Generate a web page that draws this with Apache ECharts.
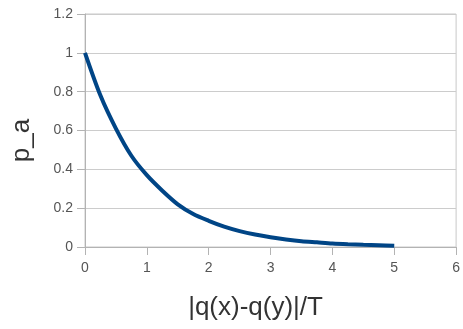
<!DOCTYPE html>
<html>
<head>
<meta charset="utf-8">
<script src="https://cdn.jsdelivr.net/npm/echarts@6/dist/echarts.min.js"></script>
<style>
  html, body { margin: 0; padding: 0; background: #fff; }
  #chart { width: 463px; height: 329px; }
</style>
</head>
<body>
<div id="chart"></div>
<script>
// values
const xValues = [0, 0.25, 0.5, 0.75, 1, 1.25, 1.5, 1.75, 2, 2.25, 2.5, 2.75, 3, 3.25, 3.5, 3.75, 4, 4.25, 4.5, 4.75, 5];
const paValues = [1, 0.78, 0.61, 0.47, 0.37, 0.29, 0.22, 0.17, 0.135, 0.105, 0.082, 0.064, 0.05, 0.039, 0.03, 0.024, 0.018, 0.014, 0.011, 0.009, 0.007];
const xTitle = "|q(x)-q(y)|/T";
const yTitle = "p_a";

const chart = echarts.init(document.getElementById("chart"));
const font = "Liberation Sans";

const option = {
  animation: false,
  grid: {
    left: 85, right: 4, top: 14, bottom: 82,
    show: true, borderColor: "#c8c8c8", borderWidth: 1
  },
  xAxis: {
    type: "value",
    min: 0, max: 6, interval: 1,
    name: xTitle,
    nameLocation: "middle",
    nameGap: 48,
    nameTextStyle: { fontFamily: font, fontSize: 26, color: "#333", padding: [0, 30, 0, 0] },
    axisLine: { lineStyle: { color: "#b3b3b3" } },
    axisTick: { show: true, length: 8, lineStyle: { color: "#b3b3b3" } },
    axisLabel: { fontFamily: font, fontSize: 14, color: "#555", margin: 14 },
    splitLine: { show: false }
  },
  yAxis: {
    type: "value",
    min: 0, max: 1.2, interval: 0.2,
    name: yTitle,
    nameLocation: "middle",
    nameGap: 50,
    nameTextStyle: { fontFamily: font, fontSize: 26, color: "#333", padding: [0, 20, 0, 0] },
    axisLine: { show: true, lineStyle: { color: "#b3b3b3" } },
    axisTick: { show: true, length: 8, lineStyle: { color: "#b3b3b3" } },
    axisLabel: { fontFamily: font, fontSize: 14, color: "#555", margin: 12 },
    splitLine: { lineStyle: { color: "#cccccc" } }
  },
  series: [
    {
      type: "line",
      data: xValues.map((x, i) => [x, paValues[i]]),
      smooth: 0.3,
      showSymbol: false,
      lineStyle: { color: "#004586", width: 4 }
    }
  ]
};

chart.setOption(option);
</script>
</body>
</html>
